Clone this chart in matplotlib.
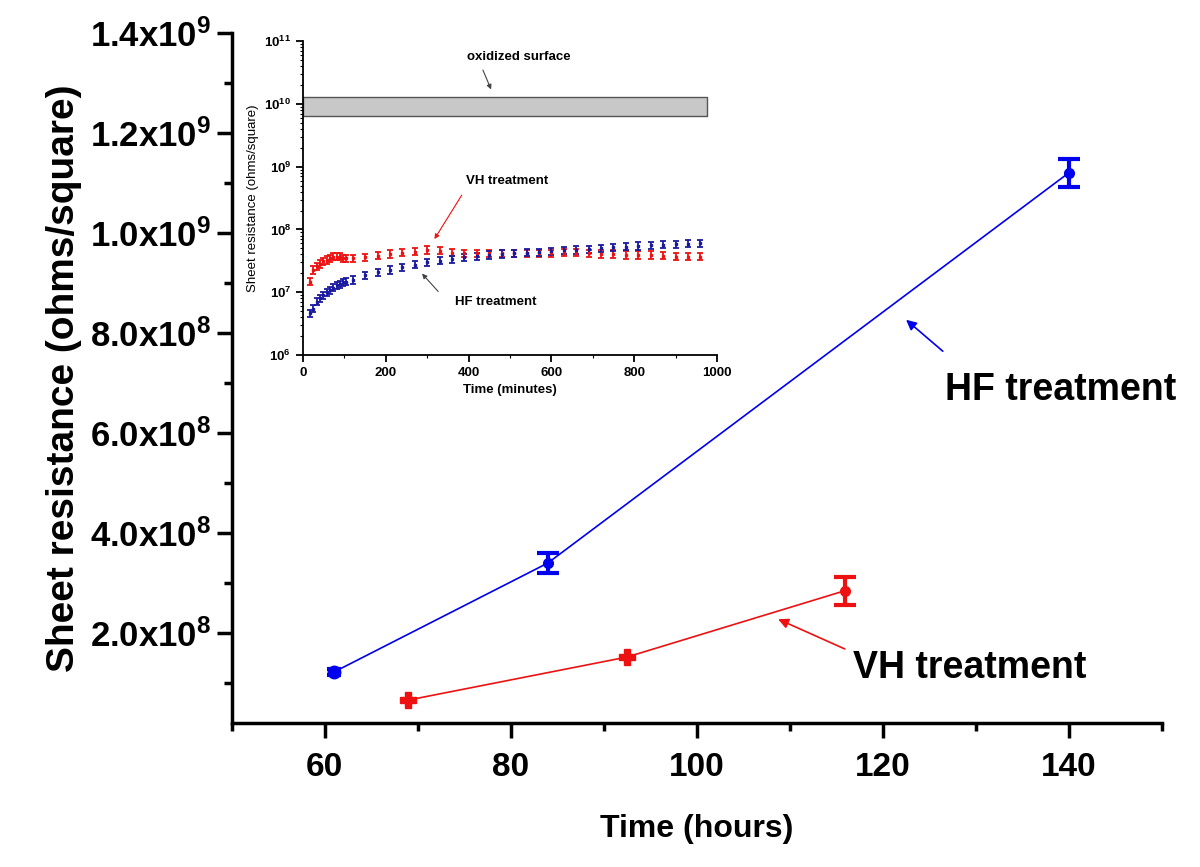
import matplotlib.pyplot as plt
import matplotlib.ticker as mticker
import numpy as np

plt.rcParams['font.family'] = ['Liberation Sans', 'DejaVu Sans']
plt.rcParams['mathtext.fontset'] = 'custom'
plt.rcParams['mathtext.rm'] = 'Liberation Sans'
plt.rcParams['mathtext.bf'] = 'Liberation Sans:bold'
plt.rcParams['mathtext.it'] = 'Liberation Sans:italic'

## main data (hours)
hf_t = [61, 84, 140]
hf_r = [1.22e8, 3.40e8, 1.12e9]
hf_err = [6.0e6, 2.0e7, 2.8e7]

vh_t = [69, 92.5, 116]
vh_r = [6.6e7, 1.52e8, 2.85e8]
vh_err = [1.0e7, 1.0e7, 2.8e7]

y_ticks = [2e8, 4e8, 6e8, 8e8, 1.0e9, 1.2e9, 1.4e9]
y_labels = [r'$\mathbf{2.0x10^{8}}$', r'$\mathbf{4.0x10^{8}}$', r'$\mathbf{6.0x10^{8}}$',
            r'$\mathbf{8.0x10^{8}}$', r'$\mathbf{1.0x10^{9}}$', r'$\mathbf{1.2x10^{9}}$',
            r'$\mathbf{1.4x10^{9}}$']

## inset data (minutes)
ins_t = [17, 25, 33, 41, 49, 57, 65, 73, 81, 89, 97, 105, 120, 150, 180, 210, 240,
         270, 300, 330, 360, 390, 420, 450, 480, 510, 540, 570, 600, 630, 660, 690,
         720, 750, 780, 810, 840, 870, 900, 930, 960]
ins_hf = [4.6e6, 5.5e6, 7.1e6, 8.0e6, 9.1e6, 1.0e7, 1.09e7, 1.19e7, 1.31e7, 1.36e7,
          1.45e7, 1.48e7, 1.58e7, 1.85e7, 2.07e7, 2.28e7, 2.49e7, 2.75e7, 3.0e7, 3.2e7,
          3.4e7, 3.6e7, 3.8e7, 3.95e7, 4.1e7, 4.2e7, 4.3e7, 4.4e7, 4.55e7, 4.65e7,
          4.75e7, 4.9e7, 5.0e7, 5.2e7, 5.35e7, 5.5e7, 5.6e7, 5.75e7, 5.9e7, 5.95e7, 6.1e7]
ins_vh = [1.48e7, 2.28e7, 2.6e7, 2.85e7, 3.1e7, 3.3e7, 3.5e7, 3.7e7, 3.7e7, 3.7e7,
          3.5e7, 3.5e7, 3.5e7, 3.6e7, 3.85e7, 4.1e7, 4.3e7, 4.45e7, 4.75e7, 4.6e7,
          4.3e7, 4.2e7, 4.2e7, 4.2e7, 4.2e7, 4.2e7, 4.2e7, 4.2e7, 4.2e7, 4.3e7,
          4.3e7, 4.2e7, 4.1e7, 4.1e7, 3.95e7, 3.95e7, 3.95e7, 3.85e7, 3.7e7, 3.7e7, 3.7e7]
ins_err_frac = 0.13
oxide_band = [6.5e9, 1.28e10]
oxide_tmax = 975

blue = '#0000ee'
red = '#ee1111'

fig = plt.figure(figsize=(12, 8.67), dpi=100)
ax = fig.add_axes([0.193, 0.166, 0.775, 0.796])

ax.plot(hf_t, hf_r, color=blue, lw=1.2)
ax.errorbar(hf_t[:1], hf_r[:1], yerr=hf_err[:1], fmt='o', color=blue, ms=9,
            elinewidth=3, capsize=5, capthick=3)
ax.errorbar(hf_t[1:], hf_r[1:], yerr=hf_err[1:], fmt='o', color=blue, ms=7,
            elinewidth=3, capsize=8, capthick=3)
ax.plot(vh_t, vh_r, color=red, lw=1.2)
ax.errorbar(vh_t[:2], vh_r[:2], yerr=vh_err[:2], fmt='P', color=red, ms=11,
            elinewidth=3, capsize=0)
ax.errorbar(vh_t[2:], vh_r[2:], yerr=vh_err[2:], fmt='o', color=red, ms=7,
            elinewidth=3, capsize=8, capthick=3)

ax.set_xlim(50, 150)
ax.set_ylim(2e7, 1.4e9)
ax.set_xticks([60, 80, 100, 120, 140])
ax.xaxis.set_minor_locator(mticker.MultipleLocator(10))
ax.set_yticks(y_ticks)
ax.set_yticklabels(y_labels)
ax.yaxis.set_minor_locator(mticker.FixedLocator([1e8, 3e8, 5e8, 7e8, 9e8, 1.1e9, 1.3e9]))
for s in ['top', 'right']:
    ax.spines[s].set_visible(False)
for s in ['left', 'bottom']:
    ax.spines[s].set_linewidth(2.5)
ax.tick_params(which='major', length=11, width=2.5)
ax.tick_params(axis='x', labelsize=24, pad=10)
ax.tick_params(axis='y', labelsize=25)
ax.tick_params(which='minor', length=6, width=2.5)
for lab in ax.get_xticklabels():
    lab.set_fontweight('bold')

ax.set_xlabel('Time (hours)', fontsize=23, fontweight='bold', labelpad=22)
ax.set_ylabel('Sheet resistance (ohms/square)', fontsize=28, fontweight='bold', labelpad=6)

ax.annotate('', xy=(122.3, 8.3e8), xytext=(126.7, 7.6e8),
            arrowprops=dict(arrowstyle='-|>', color=blue, lw=1.2, mutation_scale=15))
ax.text(126.7, 6.87e8, 'HF treatment', fontsize=27, fontweight='bold', ha='left', va='center')
ax.annotate('', xy=(108.5, 2.3e8), xytext=(116.2, 1.66e8),
            arrowprops=dict(arrowstyle='-|>', color=red, lw=1.2, mutation_scale=15))
ax.text(116.8, 1.30e8, 'VH treatment', fontsize=27, fontweight='bold', ha='left', va='center')

## inset
ins = fig.add_axes([0.2525, 0.5905, 0.345, 0.362])
ins.set_yscale('log')
ins.fill_between([0, oxide_tmax], oxide_band[0], oxide_band[1], facecolor='#c8c8c8',
                 edgecolor='#555555', lw=1)
ins_hf = np.array(ins_hf)
ins_vh = np.array(ins_vh)
ins.errorbar(ins_t, ins_vh, yerr=ins_vh * ins_err_frac, fmt='s', color=red, ms=2,
             elinewidth=1.3, capsize=2.5, capthick=1.3)
ins.errorbar(ins_t, ins_hf, yerr=ins_hf * ins_err_frac, fmt='s', color='#1a1aa0', ms=2,
             elinewidth=1.3, capsize=2.5, capthick=1.3)
ins.set_xlim(0, 1000)
ins.set_ylim(1e6, 1e11)
ins.set_xticks([0, 200, 400, 600, 800, 1000])
ins.xaxis.set_minor_locator(mticker.MultipleLocator(100))
ins.yaxis.set_major_locator(mticker.LogLocator(base=10, numticks=10))
ins.yaxis.set_minor_locator(mticker.LogLocator(base=10, subs=np.arange(2, 10), numticks=20))
ins.yaxis.set_minor_formatter(mticker.NullFormatter())
for s in ['top', 'right']:
    ins.spines[s].set_visible(False)
for s in ['left', 'bottom']:
    ins.spines[s].set_linewidth(1.3)
ins.tick_params(which='major', length=5, width=1.3, labelsize=9.5)
ins.tick_params(which='minor', length=2.5, width=0.8)
for lab in ins.get_xticklabels() + ins.get_yticklabels():
    lab.set_fontweight('bold')
ins.set_xlabel('Time (minutes)', fontsize=9.5, fontweight='bold')
ins.set_ylabel('Sheet resistance (ohms/square)', fontsize=9.5)

ins.text(522, 5.6e10, 'oxidized surface', fontsize=9.5, fontweight='bold', ha='center', va='center')
ins.annotate('', xy=(457, 10**10.19), xytext=(432, 10**10.58),
             arrowprops=dict(arrowstyle='-|>', color='#444444', lw=0.8, mutation_scale=7))
ins.text(493, 10**8.77, 'VH treatment', fontsize=9.5, fontweight='bold', ha='center', va='center')
ins.annotate('', xy=(314, 10**7.81), xytext=(387, 10**8.585),
             arrowprops=dict(arrowstyle='-|>', color=red, lw=0.8, mutation_scale=7))
ins.text(466, 10**6.85, 'HF treatment', fontsize=9.5, fontweight='bold', ha='center', va='center')
ins.annotate('', xy=(283, 10**7.33), xytext=(331, 10**6.98),
             arrowprops=dict(arrowstyle='-|>', color='#444444', lw=0.8, mutation_scale=7))

fig.savefig('out.png', dpi=100)
